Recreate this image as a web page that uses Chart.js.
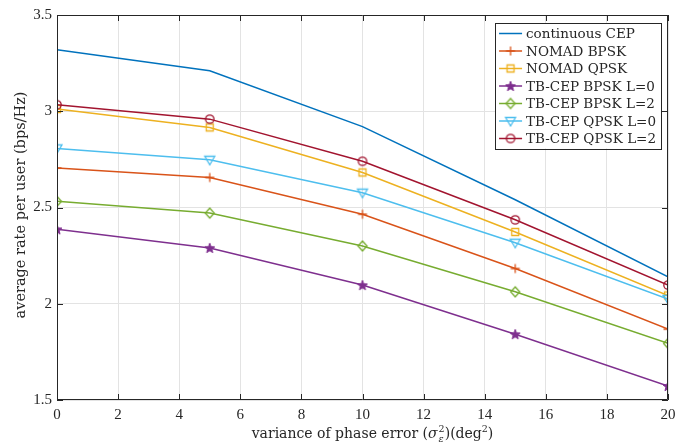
<!DOCTYPE html>
<html>
<head>
<meta charset="utf-8">
<script src="https://cdn.jsdelivr.net/npm/chart.js@4.4.1/dist/chart.umd.min.js"></script>
<style>
  html, body { margin: 0; padding: 0; background: #fff; }
  #rate { display: block; }
</style>
</head>
<body>
<canvas id="rate" width="692" height="447"></canvas>
<script>
// phase error variance (deg^2)
const phaseVar = [0, 5, 10, 15, 20];

// average rate per user (bps/Hz)
const continuousCEP = [3.32, 3.21, 2.92, 2.54, 2.14];
const nomadBPSK = [2.705, 2.656, 2.465, 2.183, 1.868];
const nomadQPSK = [3.012, 2.916, 2.682, 2.373, 2.043];
const tbBPSK0 = [2.387, 2.29, 2.097, 1.842, 1.573];
const tbBPSK2 = [2.532, 2.471, 2.30, 2.062, 1.794];
const tbQPSK0 = [2.807, 2.748, 2.577, 2.317, 2.025];
const tbQPSK2 = [3.034, 2.959, 2.74, 2.436, 2.097];

const seriesNames = ['continuous CEP', 'NOMAD BPSK', 'NOMAD QPSK', 'TB-CEP BPSK L=0',
  'TB-CEP BPSK L=2', 'TB-CEP QPSK L=0', 'TB-CEP QPSK L=2'];

const xTickVals = [0, 2, 4, 6, 8, 10, 12, 14, 16, 18, 20];
const yTickVals = [1.5, 2, 2.5, 3, 3.5];

const FONT = '"Liberation Serif", "DejaVu Serif", serif';
const TFONT = '"DejaVu Serif", "Liberation Serif", serif';
const AXIS = '#262626';
const colors = ['#0072BD', '#D95319', '#EDB120', '#7E2F8E', '#77AC30', '#4DBEEE', '#A2142F'];
const markers = ['none', 'plus', 'square', 'star', 'diamond', 'tridown', 'circle'];

// little canvases used as point styles (and reused in the legend)
function makeMarker(kind, color) {
  let c = document.createElement('canvas');
  c.width = 16; c.height = 16;
  let g = c.getContext('2d');
  g.strokeStyle = color;
  g.fillStyle = color;
  g.lineWidth = 1.3;
  let cx = 8, cy = 8;
  g.beginPath();
  if (kind == 'plus') {
    g.moveTo(cx - 4.5, cy); g.lineTo(cx + 4.5, cy);
    g.moveTo(cx, cy - 4.5); g.lineTo(cx, cy + 4.5);
    g.stroke();
  } else if (kind == 'square') {
    g.rect(cx - 3.5, cy - 3.5, 7, 7);
    g.stroke();
  } else if (kind == 'star') {
    for (let i = 0; i < 10; i++) {
      let r = i % 2 == 0 ? 5.2 : 2.2;
      let a = -Math.PI / 2 + i * Math.PI / 5;
      let px = cx + r * Math.cos(a), py = cy + 0.5 + r * Math.sin(a);
      if (i == 0) g.moveTo(px, py); else g.lineTo(px, py);
    }
    g.closePath();
    g.fill();
    g.lineWidth = 1;
    g.stroke();
  } else if (kind == 'diamond') {
    g.moveTo(cx, cy - 5); g.lineTo(cx + 4.5, cy); g.lineTo(cx, cy + 5); g.lineTo(cx - 4.5, cy);
    g.closePath();
    g.stroke();
  } else if (kind == 'tridown') {
    g.moveTo(cx - 5, cy - 3.5); g.lineTo(cx + 5, cy - 3.5); g.lineTo(cx, cy + 5);
    g.closePath();
    g.stroke();
  } else if (kind == 'circle') {
    g.arc(cx, cy, 4.2, 0, Math.PI * 2);
    g.stroke();
  }
  return c;
}

const allSeries = [continuousCEP, nomadBPSK, nomadQPSK, tbBPSK0, tbBPSK2, tbQPSK0, tbQPSK2];
const markerImgs = markers.map((m, i) => m == 'none' ? null : makeMarker(m, colors[i]));

const datasets = allSeries.map(function(vals, i) {
  return {
    label: seriesNames[i],
    data: phaseVar.map((x, k) => ({ x: x, y: vals[k] })),
    borderColor: colors[i],
    backgroundColor: colors[i],
    borderWidth: 1.5,
    tension: 0,
    pointStyle: markerImgs[i] || false,
    pointRadius: markerImgs[i] ? 5 : 0,
    order: 7 - i
  };
});

// frame, inward ticks, axis titles and legend, MATLAB style
const matlabBits = {
  id: 'matlabBits',
  afterDraw(chart) {
    const ctx = chart.ctx;
    const a = chart.chartArea;
    const xs = chart.scales.x, ys = chart.scales.y;
    ctx.save();
    ctx.strokeStyle = AXIS;
    ctx.lineWidth = 1;
    ctx.beginPath();
    ctx.rect(a.left + 0.5, a.top + 0.5, a.right - a.left - 1, a.bottom - a.top - 1);
    ctx.stroke();
    ctx.beginPath();
    xTickVals.forEach(function(v) {
      let px = Math.round(xs.getPixelForValue(v)) + 0.5;
      ctx.moveTo(px, a.bottom); ctx.lineTo(px, a.bottom - 6);
      ctx.moveTo(px, a.top); ctx.lineTo(px, a.top + 6);
    });
    yTickVals.forEach(function(v) {
      let py = Math.round(ys.getPixelForValue(v)) + 0.5;
      ctx.moveTo(a.left, py); ctx.lineTo(a.left + 6, py);
      ctx.moveTo(a.right, py); ctx.lineTo(a.right - 6, py);
    });
    ctx.stroke();

    // y title
    ctx.fillStyle = AXIS;
    ctx.font = '14.5px ' + TFONT;
    ctx.textAlign = 'center';
    ctx.textBaseline = 'middle';
    ctx.save();
    ctx.translate(21, 205);
    ctx.rotate(-Math.PI / 2);
    ctx.fillText('average rate per user (bps/Hz)', 0, 0);
    ctx.restore();

    // x title with sub/superscripts
    const parts = [
      { t: 'variance of phase error (', f: '14px ' + TFONT, dy: 0 },
      { t: 'σ', f: 'italic 14px ' + TFONT, dy: 0 },
      { t: '2', f: '9.5px ' + TFONT, dy: -6, stack: true },
      { t: 'ε', f: 'italic 9.5px ' + TFONT, dy: 4, under: true },
      { t: ')(deg', f: '14px ' + TFONT, dy: 0 },
      { t: '2', f: '9.5px ' + TFONT, dy: -6 },
      { t: ')', f: '14px ' + TFONT, dy: 0 }
    ];
    ctx.textAlign = 'left';
    ctx.textBaseline = 'alphabetic';
    let total = 0, widths = [];
    parts.forEach(function(p, i) {
      ctx.font = p.f;
      widths[i] = ctx.measureText(p.t).width;
    });
    // sub and sup of sigma share one slot
    parts.forEach(function(p, i) {
      if (p.under) total += Math.max(0, widths[i] - widths[i - 1]);
      else total += widths[i];
    });
    let x = 372 - total / 2;
    let base = 438, slotX = 0;
    parts.forEach(function(p, i) {
      ctx.font = p.f;
      if (p.stack) {
        slotX = x;
        ctx.fillText(p.t, x + 1, base + p.dy);
        x += widths[i];
      } else if (p.under) {
        ctx.fillText(p.t, slotX + 1, base + p.dy);
        x = Math.max(x, slotX + widths[i]) + 1;
      } else {
        ctx.fillText(p.t, x, base + p.dy);
        x += widths[i];
      }
    });

    // legend box
    ctx.font = '13.5px ' + TFONT;
    let textW = 0;
    seriesNames.forEach(function(n) { textW = Math.max(textW, ctx.measureText(n).width); });
    let rowH = 17.5;
    let boxW = 31 + textW + 5;
    let boxH = rowH * seriesNames.length + 3;
    let bx = a.right - 7 - boxW, by = a.top + 8;
    ctx.fillStyle = '#fff';
    ctx.fillRect(bx, by, boxW, boxH);
    ctx.strokeStyle = AXIS;
    ctx.strokeRect(Math.round(bx) + 0.5, Math.round(by) + 0.5, Math.round(boxW), Math.round(boxH));
    ctx.textBaseline = 'middle';
    seriesNames.forEach(function(n, i) {
      let cy = by + 10.5 + i * rowH;
      ctx.strokeStyle = colors[i];
      ctx.lineWidth = 1.5;
      ctx.beginPath();
      ctx.moveTo(bx + 4, cy); ctx.lineTo(bx + 27, cy);
      ctx.stroke();
      if (markerImgs[i]) ctx.drawImage(markerImgs[i], bx + 15.5 - 8, cy - 8);
      ctx.fillStyle = AXIS;
      ctx.fillText(n, bx + 31, cy + 1);
    });
    ctx.restore();
  }
};

const ctx = document.getElementById('rate').getContext('2d');
const rateChart = new Chart(ctx, {
  type: 'line',
  data: { datasets: datasets },
  options: {
    responsive: false,
    animation: false,
    devicePixelRatio: 1,
    layout: { padding: { top: 15, right: 24, left: 0, bottom: 0 } },
    plugins: { legend: { display: false }, tooltip: { enabled: false } },
    scales: {
      x: {
        type: 'linear',
        min: 0, max: 20,
        afterFit: function(s) { s.height = 47; },
        afterBuildTicks: function(s) { s.ticks = xTickVals.map(v => ({ value: v })); },
        grid: { color: '#e3e3e3', drawTicks: false },
        border: { display: false },
        ticks: { font: { family: FONT, size: 15 }, color: AXIS, padding: 6, maxRotation: 0,
          callback: v => String(v) }
      },
      y: {
        type: 'linear',
        min: 1.5, max: 3.5,
        afterFit: function(s) { s.width = 57; },
        afterBuildTicks: function(s) { s.ticks = yTickVals.map(v => ({ value: v })); },
        grid: { color: '#e3e3e3', drawTicks: false },
        border: { display: false },
        ticks: { font: { family: FONT, size: 15 }, color: AXIS, padding: 5,
          callback: v => String(v) }
      }
    }
  },
  plugins: [matlabBits]
});
</script>
</body>
</html>
